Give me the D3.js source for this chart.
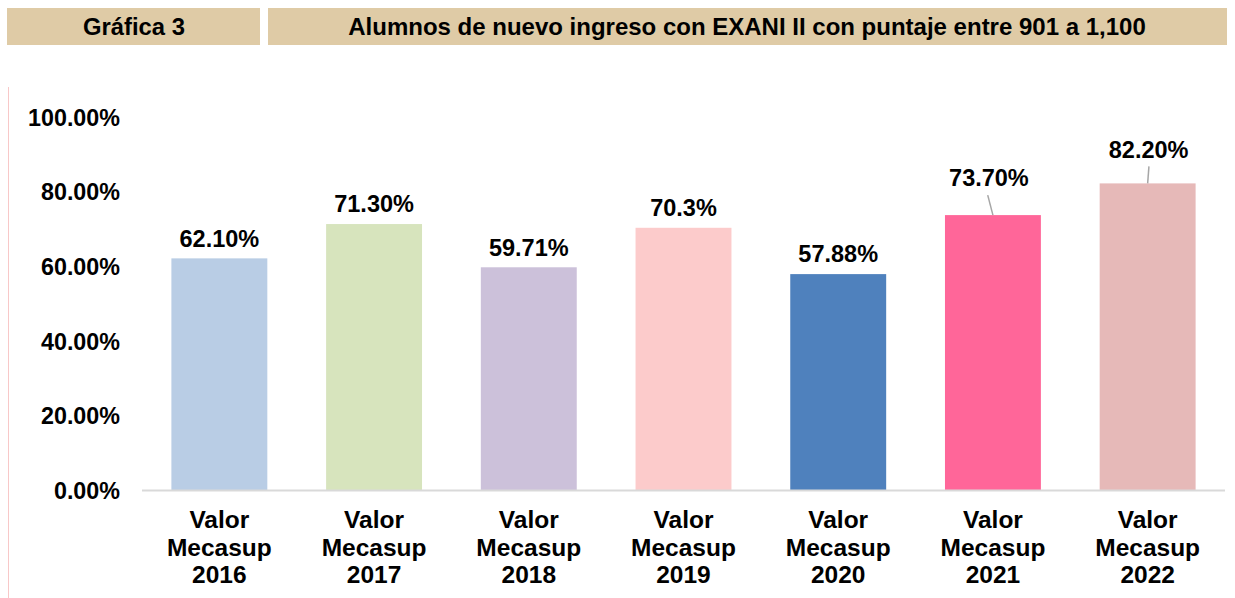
<!DOCTYPE html>
<html>
<head>
<meta charset="utf-8">
<script src="https://cdn.jsdelivr.net/npm/d3@7"></script>
<style>
  body { margin: 0; background: #fff; }
  svg text { font-family: "Liberation Sans", Arial, sans-serif; font-weight: bold; fill: #000; }
</style>
</head>
<body>
<div id="chart"></div>
<script>
// chart data
var years = ['2016', '2017', '2018', '2019', '2020', '2021', '2022'];
var values = [62.10, 71.30, 59.71, 70.3, 57.88, 73.70, 82.20];
var valueLabels = ['62.10%', '71.30%', '59.71%', '70.3%', '57.88%', '73.70%', '82.20%'];
var barColors = ['#B9CDE5', '#D7E4BD', '#CCC1DA', '#FCCBCB', '#4F81BD', '#FF6699', '#E6B9B8'];
var yTicks = [0, 20, 40, 60, 80, 100];

var width = 1235, height = 598;
var margin = { top: 117, right: 10, bottom: 108, left: 142 };

var svg = d3.select('#chart').append('svg')
            .attr('width', width)
            .attr('height', height);

// header boxes
var header = svg.append('g');
header.append('rect').attr('x', 7).attr('y', 8).attr('width', 253).attr('height', 37).attr('fill', '#DFCBA6');
header.append('rect').attr('x', 268).attr('y', 8).attr('width', 959).attr('height', 37).attr('fill', '#DFCBA6');
header.append('text').attr('x', 134).attr('y', 26.5).attr('dy', '0.35em').attr('text-anchor', 'middle')
      .style('font-size', '23.8px').text('Gráfica 3');
header.append('text').attr('x', 747).attr('y', 26.5).attr('dy', '0.35em').attr('text-anchor', 'middle')
      .style('font-size', '24px').text('Alumnos de nuevo ingreso con EXANI II con puntaje entre 901 a 1,100');

// pink frame edge on the left
svg.append('line').attr('x1', 8.5).attr('x2', 8.5).attr('y1', 87).attr('y2', 598)
   .attr('stroke', '#F8C8C8').attr('stroke-width', 1);

var x = d3.scaleBand()
          .domain(years)
          .range([margin.left, width - margin.right])
          .paddingInner(0.38)
          .paddingOuter(0.19);

var y = d3.scaleLinear()
          .domain([0, 100])
          .range([height - margin.bottom, margin.top]);

// y axis labels
var yAxis = d3.axisLeft(y)
              .tickValues(yTicks)
              .tickSize(0)
              .tickPadding(0)
              .tickFormat(function(d) { return d.toFixed(2) + '%'; });

var yg = svg.append('g')
            .attr('transform', 'translate(120,0)')
            .call(yAxis);
yg.select('.domain').remove();
yg.selectAll('text').style('font-size', '23.3px').attr('dy', '0.36em');

// bars
svg.append('g').selectAll('rect')
   .data(values)
   .enter()
   .append('rect')
   .attr('x', function(d, i) { return x(years[i]); })
   .attr('y', function(d) { return y(d); })
   .attr('width', x.bandwidth())
   .attr('height', function(d) { return y(0) - y(d); })
   .attr('fill', function(d, i) { return barColors[i]; });

// baseline
svg.append('line')
   .attr('x1', margin.left).attr('x2', width - margin.right)
   .attr('y1', y(0) + 0.5).attr('y2', y(0) + 0.5)
   .attr('stroke', '#D9D9D9').attr('stroke-width', 2);

// value labels (last two are lifted with leader lines)
var labelLift = [20, 20, 20, 20, 20, 37, 34];
var labelShift = [0, 0, 0, 0, 0, -4, 1];
var lg = svg.append('g');
values.forEach(function(d, i) {
  var cx = x(years[i]) + x.bandwidth() / 2;
  var ly = y(d) - labelLift[i];
  lg.append('text')
    .attr('x', cx + labelShift[i])
    .attr('y', ly)
    .attr('dy', '0.35em')
    .attr('text-anchor', 'middle')
    .style('font-size', '23.5px')
    .text(valueLabels[i]);
  if (labelLift[i] > 20) {
    lg.append('line')
      .attr('x1', cx + labelShift[i] * 1.3).attr('y1', ly + 17)
      .attr('x2', cx).attr('y2', y(d))
      .attr('stroke', '#A6A6A6').attr('stroke-width', 1.5);
  }
});

// category labels
var cg = svg.append('g');
years.forEach(function(yr, i) {
  var cx = x(yr) + x.bandwidth() / 2;
  var t = cg.append('text')
            .attr('x', cx)
            .attr('y', 528)
            .attr('text-anchor', 'middle')
            .style('font-size', '24.5px');
  ['Valor', 'Mecasup', yr].forEach(function(line, j) {
    t.append('tspan').attr('x', cx).attr('dy', j === 0 ? 0 : 27.5).text(line);
  });
});
</script>
</body>
</html>
